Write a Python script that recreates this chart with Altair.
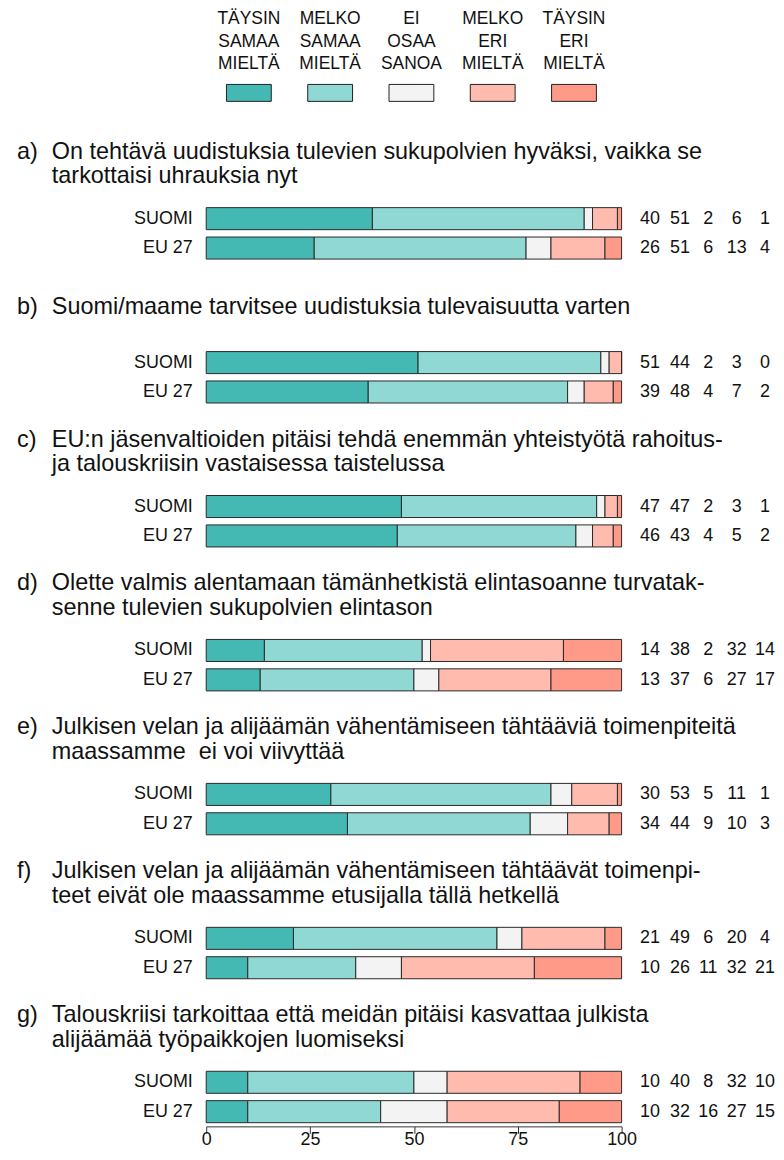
import altair as alt
import pandas as pd

# ---------------- data ----------------
letters = ["a)", "b)", "c)", "d)", "e)", "f)", "g)"]
questions = [
    ["On tehtävä uudistuksia tulevien sukupolvien hyväksi, vaikka se",
     "tarkottaisi uhrauksia nyt"],
    ["Suomi/maame tarvitsee uudistuksia tulevaisuutta varten"],
    ["EU:n jäsenvaltioiden pitäisi tehdä enemmän yhteistyötä rahoitus-",
     "ja talouskriisin vastaisessa taistelussa"],
    ["Olette valmis alentamaan tämänhetkistä elintasoanne turvatak-",
     "senne tulevien sukupolvien elintason"],
    ["Julkisen velan ja alijäämän vähentämiseen tähtääviä toimenpiteitä",
     "maassamme\u00a0 ei voi viivyttää"],
    ["Julkisen velan ja alijäämän vähentämiseen tähtäävät toimenpi-",
     "teet eivät ole maassamme etusijalla tällä hetkellä"],
    ["Talouskriisi tarkoittaa että meidän pitäisi kasvattaa julkista",
     "alijäämää työpaikkojen luomiseksi"],
]
regions = ["SUOMI", "EU 27"]
categories = ["TÄYSIN SAMAA MIELTÄ", "MELKO SAMAA MIELTÄ", "EI OSAA SANOA",
              "MELKO ERI MIELTÄ", "TÄYSIN ERI MIELTÄ"]
legend_lines = [
    ["TÄYSIN", "MELKO", "EI", "MELKO", "TÄYSIN"],
    ["SAMAA", "SAMAA", "OSAA", "ERI", "ERI"],
    ["MIELTÄ", "MIELTÄ", "SANOA", "MIELTÄ", "MIELTÄ"],
]
colors = ["#44b8b2", "#8fd8d3", "#f3f3f3", "#ffbbad", "#ff9a88"]
suomi = [
    [40, 51, 2, 6, 1],
    [51, 44, 2, 3, 0],
    [47, 47, 2, 3, 1],
    [14, 38, 2, 32, 14],
    [30, 53, 5, 11, 1],
    [21, 49, 6, 20, 4],
    [10, 40, 8, 32, 10],
]
eu27 = [
    [26, 51, 6, 13, 4],
    [39, 48, 4, 7, 2],
    [46, 43, 4, 5, 2],
    [13, 37, 6, 27, 17],
    [34, 44, 9, 10, 3],
    [10, 26, 11, 32, 21],
    [10, 32, 16, 27, 15],
]
tick_values = [0, 25, 50, 75, 100]

# ---------------- style ----------------
FONT = "Liberation Sans, Arial, Helvetica, sans-serif"
TXT = "#111111"
W = 417
H = 59
num_cols = [445.5, 475.5, 504, 532.5, 561]
legend_line_y = [9, 31.5, 54]
legend_swatch_y = 83
title_y2 = [-52.5, -28]
title_y1 = -41.25
TITLE_FS = 23.5

color_scale = alt.Scale(domain=categories, range=colors)

# ---------------- legend panel ----------------
legend_df = pd.DataFrame({"cat": categories,
                          "l0": legend_lines[0], "l1": legend_lines[1], "l2": legend_lines[2]})
lx = alt.X("cat:N", sort=categories, scale=alt.Scale(type="point", range=[2, 410]), axis=None)
legend_layers = []
for j in range(3):
    legend_layers.append(
        alt.Chart(legend_df).mark_text(
            fontSize=17.5, align="center", baseline="middle", font=FONT, color=TXT
        ).encode(x=lx, y=alt.value(legend_line_y[j]), text=f"l{j}:N")
    )
legend_sw = alt.Chart(legend_df).mark_point(
    shape="M-2.647,-1H2.647V1H-2.647Z", size=289, filled=True, opacity=1,
    stroke="#222222", strokeWidth=1
).encode(x=lx, y=alt.value(legend_swatch_y),
         color=alt.Color("cat:N", scale=color_scale, legend=None))
legend_panel = alt.layer(*legend_layers, legend_sw).properties(width=W, height=108.75)

# ---------------- question panels ----------------
panels = []
for i in range(len(questions)):
    rows = []
    for r, vals in zip(regions, [suomi[i], eu27[i]]):
        for k, (c, v) in enumerate(zip(categories, vals)):
            rows.append({"region": r, "cat": c, "order": k, "value": v})
    df = pd.DataFrame(rows)
    last = i == len(questions) - 1
    if last:
        xaxis = alt.Axis(values=tick_values, title=None, grid=False, labelFontSize=18,
                         labelFont=FONT, labelColor=TXT, tickSize=7, tickColor="#333333",
                         domainColor="#333333", labelPadding=-3, labelFlush=False)
    else:
        xaxis = None
    y = alt.Y("region:N", sort=regions,
              scale=alt.Scale(paddingInner=0.25, paddingOuter=0.125),
              axis=alt.Axis(title=None, domain=False, ticks=False, tickSize=0,
                            labelFontSize=18, labelFont=FONT, labelColor=TXT,
                            labelPadding=14))
    bars = alt.Chart(df).mark_bar(stroke="#2a2a2a", strokeWidth=1).encode(
        x=alt.X("value:Q", stack="zero",
                scale=alt.Scale(domain=[0, 100], nice=False), axis=xaxis),
        y=y,
        color=alt.Color("cat:N", scale=color_scale, legend=None),
        order=alt.Order("order:Q"),
    )
    nums = [
        alt.Chart(df).transform_filter(alt.datum.order == k).mark_text(
            fontSize=18, font=FONT, color=TXT, align="center", baseline="middle"
        ).encode(x=alt.value(num_cols[k]), y=y, text="value:Q")
        for k in range(5)
    ]
    lines = questions[i]
    ys = title_y2 if len(lines) == 2 else [title_y1]
    tdf = pd.DataFrame({"l": [letters[i]], **{f"t{j}": [s] for j, s in enumerate(lines)}})
    title_layers = [
        alt.Chart(tdf).mark_text(
            fontSize=TITLE_FS, font=FONT, color=TXT, align="left", baseline="middle"
        ).encode(x=alt.value(-155), y=alt.value(ys[j]), text=f"t{j}:N")
        for j in range(len(lines))
    ]
    letter = alt.Chart(tdf).mark_text(
        fontSize=TITLE_FS, font=FONT, color=TXT, align="left", baseline="middle"
    ).encode(x=alt.value(-190), y=alt.value(ys[0]), text="l:N")
    panels.append(alt.layer(bars, *nums, *title_layers, letter).properties(width=W, height=H))

chart = alt.vconcat(legend_panel, *panels, spacing=85.5, bounds="flush").resolve_scale(
    x="independent", y="independent"
).properties(
    padding={"left": 9, "top": 0, "right": 0, "bottom": 0}
).configure_view(stroke=None)

chart.save("out.html", embed_options={"renderer": "svg", "actions": False})
